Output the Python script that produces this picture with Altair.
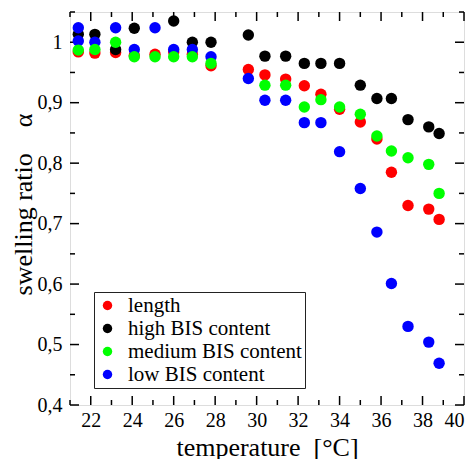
import altair as alt
import pandas as pd

series_names = ["length", "high BIS content", "medium BIS content", "low BIS content"]
series_colors = ["#ff0000", "#000000", "#00ff00", "#0000ff"]

length_t = [21.4, 22.2, 23.2, 24.1, 25.1, 26.0, 26.9, 27.8, 29.6, 30.4, 31.4, 32.3, 33.1, 34.0, 35.0, 35.8, 36.5, 37.3, 38.3, 38.8]
length_v = [0.984, 0.982, 0.983, 0.978, 0.980, 0.984, 0.980, 0.961, 0.955, 0.946, 0.939, 0.928, 0.914, 0.889, 0.868, 0.840, 0.785, 0.730, 0.724, 0.707]

high_t = [21.4, 22.2, 23.2, 24.1, 26.0, 26.9, 27.8, 29.6, 30.4, 31.4, 32.3, 33.1, 34.0, 35.0, 35.8, 36.5, 37.3, 38.3, 38.8]
high_v = [1.013, 1.013, 0.988, 1.023, 1.035, 1.000, 1.000, 1.012, 0.977, 0.977, 0.965, 0.965, 0.965, 0.929, 0.907, 0.907, 0.872, 0.860, 0.849]

low_t = [21.4, 21.4, 22.2, 23.2, 24.1, 25.1, 26.0, 26.9, 27.8, 29.6, 30.4, 31.4, 32.3, 33.1, 34.0, 35.0, 35.8, 36.5, 37.3, 38.3, 38.8]
low_v = [1.024, 1.002, 1.000, 1.024, 0.988, 1.024, 0.988, 0.988, 0.976, 0.940, 0.904, 0.904, 0.867, 0.867, 0.819, 0.758, 0.686, 0.601, 0.530, 0.504, 0.469]

medium_t = [21.4, 22.2, 23.2, 24.1, 25.1, 26.0, 26.9, 27.8, 30.4, 31.4, 32.3, 33.1, 34.0, 35.0, 35.8, 36.5, 37.3, 38.3, 38.8]
medium_v = [0.987, 0.988, 1.000, 0.976, 0.976, 0.976, 0.976, 0.965, 0.929, 0.929, 0.893, 0.905, 0.893, 0.881, 0.845, 0.820, 0.809, 0.798, 0.750]

x_major = [22, 24, 26, 28, 30, 32, 34, 36, 38, 40]
x_minor = [21, 23, 25, 27, 29, 31, 33, 35, 37, 39]
y_major = [0.4, 0.5, 0.6, 0.7, 0.8, 0.9, 1.0]
y_minor = [0.45, 0.55, 0.65, 0.75, 0.85, 0.95, 1.05]

rows = []
for name, ts, vs in [("length", length_t, length_v),
                     ("high BIS content", high_t, high_v),
                     ("low BIS content", low_t, low_v),
                     ("medium BIS content", medium_t, medium_v)]:
    for t, v in zip(ts, vs):
        rows.append({"temperature": t, "alpha": v, "series": name})
df = pd.DataFrame(rows)
df["order"] = range(len(df))

W, H = 394, 393
FONT = "Liberation Serif"
xscale = alt.Scale(domain=[21, 40], nice=False, zero=False)
yscale = alt.Scale(domain=[0.4, 1.05], nice=False, zero=False)

points = alt.Chart(df).mark_point(filled=True, size=130, opacity=1).encode(
    x=alt.X("temperature:Q", scale=xscale,
            axis=alt.Axis(values=x_major, title="temperature\u00a0\u00a0[°C]", grid=False,
                          ticks=False, domain=False, labelFont=FONT, labelFontSize=20,
                          labelColor="black", labelPadding=5, titleFont=FONT, titleFontSize=26,
                          titleFontWeight="normal", titleColor="black",
                          titleY=50, titleBaseline="alphabetic")),
    y=alt.Y("alpha:Q", scale=yscale,
            axis=alt.Axis(values=y_major, title="swelling ratio\u00a0\u00a0\u00a0\u00a0α", grid=False,
                          ticks=False, domain=False, labelFont=FONT, labelFontSize=20,
                          labelColor="black", labelPadding=8,
                          labelExpr="datum.value == 1 ? '1' : replace(format(datum.value, '.1f'), '.', ',')",
                          titleFont=FONT, titleFontSize=26, titleFontWeight="normal",
                          titleColor="black", titleX=-47, titleY=192, titleBaseline="middle",
                          titleAngle=-90)),
    color=alt.Color("series:N",
                    scale=alt.Scale(domain=series_names, range=series_colors),
                    legend=alt.Legend(title=None, orient="none", legendX=24, legendY=280,
                                      labelFont=FONT, labelFontSize=21, labelColor="black",
                                      labelLimit=0,
                                      symbolType="circle", symbolSize=90, symbolStrokeWidth=0,
                                      padding=3, strokeColor="#222222", fillColor="white",
                                      labelOffset=10, rowPadding=1, symbolOffset=0)),
    order=alt.Order("order:Q"),
)

xt_major = pd.DataFrame({"v": x_major})
xt_minor = pd.DataFrame({"v": x_minor})
yt_major = pd.DataFrame({"v": y_major})
yt_minor = pd.DataFrame({"v": y_minor})

def xticks(data, length):
    bottom = alt.Chart(data).mark_rule(color="black", strokeWidth=1.5).encode(
        x=alt.X("v:Q", scale=xscale), y=alt.value(H), y2=alt.value(H - length))
    top = alt.Chart(data).mark_rule(color="black", strokeWidth=1.5).encode(
        x=alt.X("v:Q", scale=xscale), y=alt.value(0), y2=alt.value(length))
    return [bottom, top]

def yticks(data, length):
    left = alt.Chart(data).mark_rule(color="black", strokeWidth=1.5).encode(
        y=alt.Y("v:Q", scale=yscale), x=alt.value(0), x2=alt.value(length))
    right = alt.Chart(data).mark_rule(color="black", strokeWidth=1.5).encode(
        y=alt.Y("v:Q", scale=yscale), x=alt.value(W), x2=alt.value(W - length))
    return [left, right]

layers = xticks(xt_major, 9) + xticks(xt_minor, 5) + yticks(yt_major, 9) + yticks(yt_minor, 5) + [points]

chart = alt.layer(*layers).properties(
    width=W, height=H,
    autosize=alt.AutoSizeParams(type="none"),
    padding={"left": 70, "top": 12, "right": 11, "bottom": 54},
).configure_view(stroke="black", strokeWidth=2).configure(background="white")

chart.save("out.html", embed_options={"renderer": "svg", "actions": False})
